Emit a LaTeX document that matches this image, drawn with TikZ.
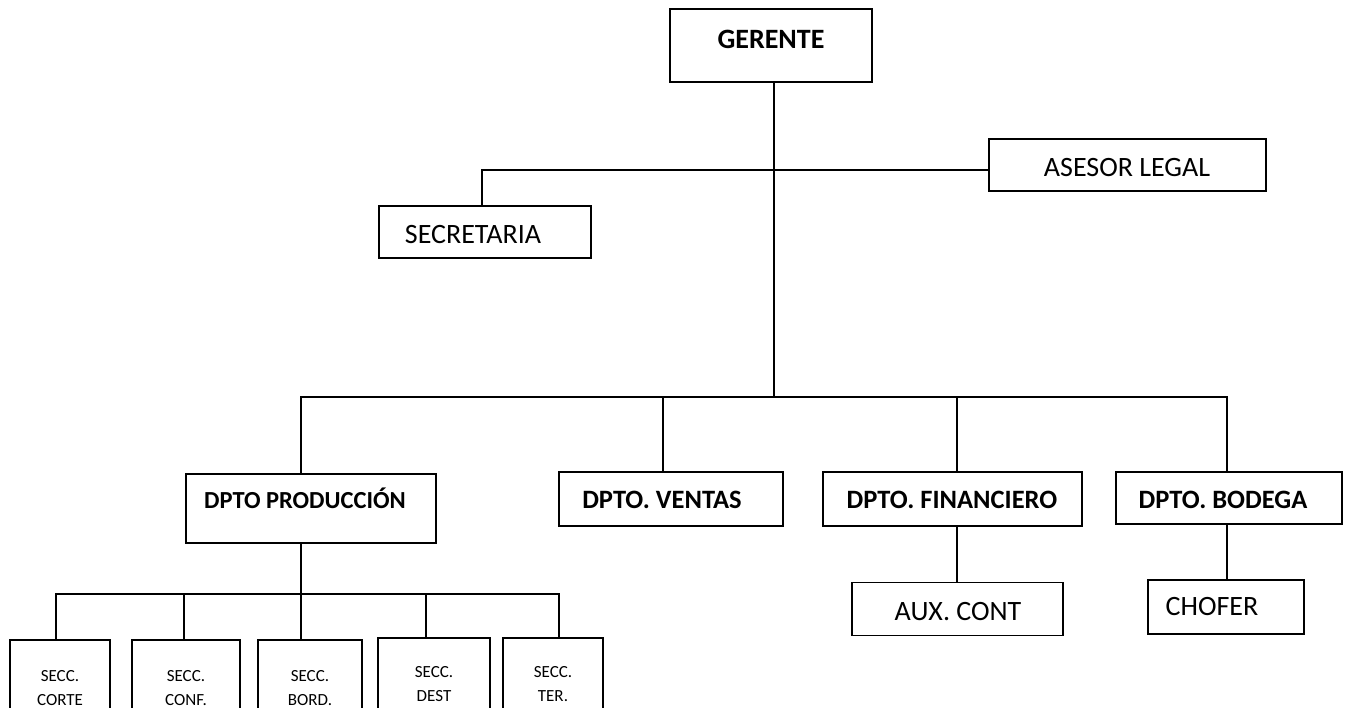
\documentclass[tikz,border=0pt]{standalone}
\usepackage{fontspec}
\setmainfont{Carlito}
\begin{document}
\begin{tikzpicture}[x=1pt,y=-1pt,
  box/.style={draw=black, line width=1.8pt, inner sep=0pt},
  wire/.style={draw=black, line width=1.8pt},
  hd/.style={font=\fontsize{28}{30}\selectfont\bfseries, anchor=base, inner sep=0pt},
  dept/.style={font=\fontsize{26.5}{30}\selectfont\bfseries, anchor=base, inner sep=0pt},
  lbl/.style={font=\fontsize{28}{32}\selectfont, anchor=base, inner sep=0pt},
  small/.style={font=\fontsize{17}{24}\selectfont, align=center, inner sep=0pt},
]
\useasboundingbox (0,0) rectangle (1351,708);

% top management
\node[box, minimum width=202pt, minimum height=73pt] (ger) at (771,45.5) {};
\node[hd] (gert) at (771,49) {GERENTE};

\node[box, minimum width=212pt, minimum height=52pt] (sec) at (485,232) {};
\node[lbl] (sect) at (473,244) {SECRETARIA};

\node[box, minimum width=277pt, minimum height=52pt] (ases) at (1127.5,165) {};
\node[lbl] (asest) at (1127,177) {ASESOR LEGAL};

% departments
\node[box, minimum width=250pt, minimum height=69pt] (prod) at (311,508.5) {};
\node[dept, font=\fontsize{24.5}{30}\selectfont\bfseries] (prodt) at (305,508) {DPTO PRODUCCIÓN};

\node[box, minimum width=224pt, minimum height=54pt] (vent) at (671,499) {};
\node[dept] (ventt) at (662,508) {DPTO. VENTAS};

\node[box, minimum width=259pt, minimum height=54pt] (fin) at (952.5,499) {};
\node[dept] (fint) at (952,508) {DPTO. FINANCIERO};

\node[box, minimum width=226pt, minimum height=52pt] (bod) at (1229,498) {};
\node[dept] (bodt) at (1223,508) {DPTO. BODEGA};

% staff under departments
\node[box, minimum width=211pt, minimum height=53pt] (aux) at (957.5,609) {};
\node[lbl] (auxt) at (958,620) {AUX. CONT};

\node[box, minimum width=156pt, minimum height=54pt] (cho) at (1226,607) {};
\node[lbl] (chot) at (1212,615) {CHOFER};

% production sections (run off the lower edge)
\node[box, minimum width=100pt, minimum height=80pt] (s1) at (60,680) {};
\node[box, minimum width=108pt, minimum height=80pt] (s2) at (186,680) {};
\node[box, minimum width=104pt, minimum height=80pt] (s3) at (310,680) {};
\node[box, minimum width=112pt, minimum height=80pt] (s4) at (434,678) {};
\node[box, minimum width=100pt, minimum height=80pt] (s5) at (553,678) {};
\node[small] (s1t) at (60,688) {SECC.\\CORTE};
\node[small] (s2t) at (186,688) {SECC.\\CONF.};
\node[small] (s3t) at (310,688) {SECC.\\BORD.};
\node[small] (s4t) at (434,684) {SECC.\\DEST};
\node[small] (s5t) at (553,684) {SECC.\\TER.};

% junction points
\coordinate (j1) at (774,170);
\coordinate (j2) at (774,397);
\coordinate (secup) at (482,170);
\coordinate (b1) at (301,397);
\coordinate (b2) at (663,397);
\coordinate (b3) at (957,397);
\coordinate (b4) at (1227,397);
\coordinate (c1) at (56,594);
\coordinate (c2) at (184,594);
\coordinate (c3) at (301,594);
\coordinate (c4) at (426,594);
\coordinate (c5) at (559,594);

% connectors
\draw[wire] (ger.south -| j1) -- (j2);
\draw[wire] (ases.west |- j1) -- (secup) -- (secup |- sec.north);
\draw[wire] (b1 |- prod.north) -- (b1) -- (b4) -- (b4 |- bod.north);
\draw[wire] (b2) -- (b2 |- vent.north);
\draw[wire] (b3) -- (b3 |- fin.north);
\draw[wire] (b3 |- fin.south) -- (b3 |- aux.north);
\draw[wire] (b4 |- bod.south) -- (b4 |- cho.north);
\draw[wire] (c3 |- prod.south) -- (c3);
\draw[wire] (c1 |- s1.north) -- (c1) -- (c5) -- (c5 |- s5.north);
\draw[wire] (c2) -- (c2 |- s2.north);
\draw[wire] (c3) -- (c3 |- s3.north);
\draw[wire] (c4) -- (c4 |- s4.north);
\end{tikzpicture}
\end{document}
